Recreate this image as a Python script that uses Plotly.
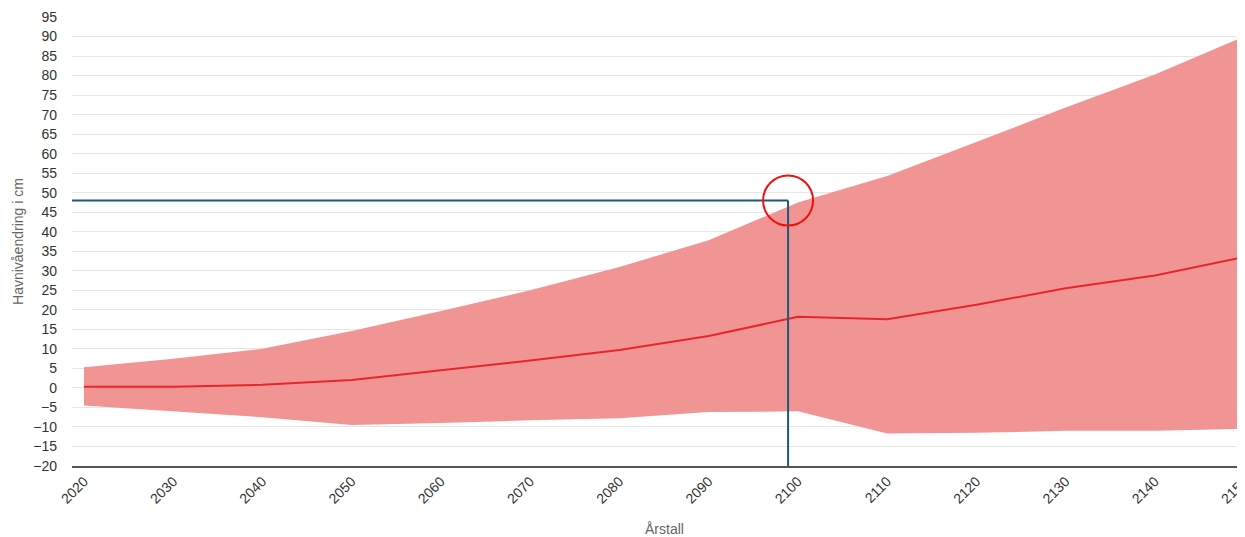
import plotly.graph_objects as go

years = [2020, 2030, 2040, 2050, 2060, 2070, 2080, 2090, 2100, 2110, 2120, 2130, 2140, 2150]
upper = [5.3, 7.5, 10.0, 14.6, 19.7, 25.0, 31.0, 37.8, 47.5, 54.3, 63.0, 71.8, 80.3, 90.0]
median = [0.3, 0.3, 0.8, 2.0, 4.5, 7.0, 9.7, 13.3, 18.2, 17.6, 21.3, 25.5, 28.8, 33.5]
lower = [-4.5, -6.0, -7.5, -9.5, -9.0, -8.3, -7.8, -6.2, -6.0, -11.7, -11.5, -11.0, -11.0, -10.5]
y_ticks = list(range(-20, 96, 5))

marker_year = 2098.9
marker_value = 48

fig = go.Figure()
fig.add_trace(go.Scatter(x=years, y=lower, mode="lines", line=dict(width=0, color="#f19594"),
                         showlegend=False, hoverinfo="skip"))
fig.add_trace(go.Scatter(x=years, y=upper, mode="lines", line=dict(width=0, color="#f19594"),
                         fill="tonexty", fillcolor="#f19594", showlegend=False))
fig.add_trace(go.Scatter(x=years, y=median, mode="lines", line=dict(width=2, color="#e8262a"),
                         showlegend=False))

blue = "#1b5a7c"
fig.add_shape(type="line", xref="x", yref="y", x0=2018.66, x1=marker_year, y0=marker_value, y1=marker_value,
              line=dict(color=blue, width=2))
fig.add_shape(type="line", xref="x", yref="y", x0=marker_year, x1=marker_year, y0=-20, y1=marker_value,
              line=dict(color=blue, width=2))
fig.add_shape(type="circle", xref="x", yref="y", xsizemode="pixel", ysizemode="pixel",
              xanchor=marker_year, yanchor=marker_value, x0=-25, x1=25, y0=-25, y1=25,
              line=dict(color="#ee1111", width=2))

fig.add_annotation(text="Årstall", xref="paper", yref="paper", x=0.5055, y=-0.14,
                   xanchor="center", yanchor="middle", showarrow=False,
                   font=dict(size=14, color="#666666"))
fig.add_annotation(text="Havnivåendring i cm", xref="paper", yref="paper", x=-0.0465, y=0.5,
                   xanchor="center", yanchor="middle", showarrow=False, textangle=-90,
                   font=dict(size=14, color="#666666"))

fig.update_layout(
    width=1237, height=529,
    margin=dict(l=64, r=0, t=9, b=71),
    plot_bgcolor="white", paper_bgcolor="white",
    font=dict(family="Liberation Sans, Arial, sans-serif", color="#333333", size=14),
    xaxis=dict(range=[2018.66, 2150.1], tickmode="array", tickvals=years,
               ticktext=[str(y) for y in years], tickangle=-45, showgrid=False,
               showline=True, linecolor="#555555", linewidth=1.5, ticks="",
               automargin=False, ticklabeloverflow="allow",
               tickfont=dict(size=14, color="#333333")),
    yaxis=dict(range=[-20, 95], tickmode="array", tickvals=y_ticks,
               showgrid=True, gridcolor="#e6e6e6", gridwidth=1, zeroline=False,
               automargin=False, ticklabelstandoff=14,
               tickfont=dict(size=14, color="#333333"), ticks=""),
)
fig.write_html("out.html")
